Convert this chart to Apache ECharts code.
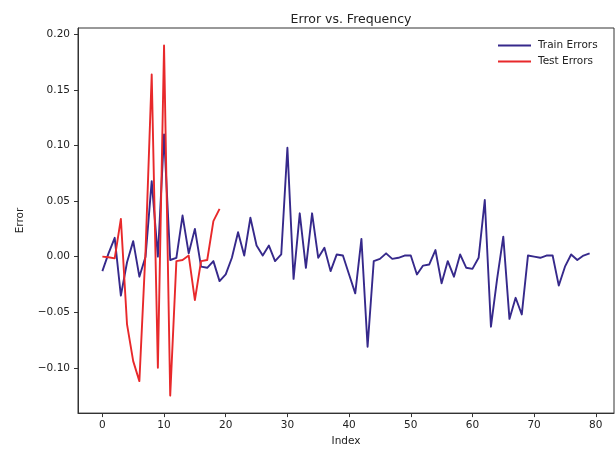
<!DOCTYPE html>
<html>
<head>
<meta charset="utf-8">
<script src="https://cdn.jsdelivr.net/npm/echarts@6/dist/echarts.min.js"></script>
<style>
  html, body { margin: 0; padding: 0; background: #fff; }
  #chart { width: 616px; height: 452px; }
</style>
</head>
<body>
<div id="chart"></div>
<script>
// Per-index errors for the training set (indices 0..79)
const trainErrors = [
  -0.013, 0.003, 0.017, -0.035, -0.005, 0.014, -0.018, 0.000, 0.068, 0.000,
  0.110, -0.003, -0.001, 0.037, 0.003, 0.025, -0.009, -0.010, -0.004, -0.022,
  -0.016, -0.001, 0.022, 0.001, 0.035, 0.010, 0.001, 0.010, -0.004, 0.002,
  0.098, -0.020, 0.039, -0.010, 0.039, -0.001, 0.008, -0.013, 0.002, 0.001,
  -0.016, -0.033, 0.016, -0.081, -0.004, -0.002, 0.003, -0.002, -0.001, 0.001,
  0.001, -0.016, -0.008, -0.007, 0.006, -0.024, -0.004, -0.018, 0.002, -0.010,
  -0.011, -0.001, 0.051, -0.063, -0.020, 0.018, -0.056, -0.037, -0.052, 0.001,
  0.000, -0.001, 0.001, 0.001, -0.026, -0.009, 0.002, -0.003, 0.001, 0.003
];

// Per-index errors for the test set (indices 0..19)
const testErrors = [
  0.000, -0.0005, -0.0015, 0.034, -0.061, -0.094, -0.112, 0.005, 0.164, -0.100,
  0.190, -0.125, -0.004, -0.003, 0.001, -0.039, -0.004, -0.003, 0.032, 0.043
];

const xTicks = [0, 10, 20, 30, 40, 50, 60, 70, 80];
const yTicks = [-0.10, -0.05, 0.00, 0.05, 0.10, 0.15, 0.20];

const seriesNames = ['Train Errors', 'Test Errors'];
const seriesColors = ['#36298b', '#e8292b'];

// Axis limits with a 5% margin around the data extent
function paddedRange(lo, hi) {
  const pad = (hi - lo) * 0.05;
  return [lo - pad, hi + pad];
}
const allY = trainErrors.concat(testErrors);
const [yMin, yMax] = paddedRange(Math.min(...allY), Math.max(...allY));
const [xMin, xMax] = paddedRange(0, trainErrors.length - 1);

const toPoints = arr => arr.map((v, i) => [i, v]);
const minus = s => s.replace('-', '\u2212');

const FONT = 'DejaVu Sans';
const TEXT = '#222';
const AXIS = '#333';

const chart = echarts.init(document.getElementById('chart'), null, { renderer: 'canvas' });
chart.setOption({
  animation: false,
  backgroundColor: '#fff',
  title: {
    text: 'Error vs. Frequency',
    left: 346, top: 8, textAlign: 'center',
    textStyle: { fontFamily: FONT, fontSize: 12.5, fontWeight: 'normal', color: TEXT }
  },
  legend: {
    data: seriesNames,
    orient: 'vertical',
    left: 493, top: 35,
    itemWidth: 33, itemHeight: 2, itemGap: 5,
    icon: 'rect',
    textStyle: { fontFamily: FONT, fontSize: 10.5, color: TEXT, padding: [0, 0, 0, 2] }
  },
  grid: {
    left: 78, right: 2, top: 28, bottom: 35,
    show: true, borderColor: AXIS, borderWidth: 1, backgroundColor: 'transparent'
  },
  xAxis: {
    type: 'value', min: xMin, max: xMax,
    name: 'Index', nameLocation: 'middle', nameGap: 21,
    nameTextStyle: { fontFamily: FONT, fontSize: 10.5, color: TEXT },
    axisLine: { show: true, onZero: false, lineStyle: { color: AXIS, width: 1 } },
    axisTick: { show: true, inside: false, length: 4, customValues: xTicks, lineStyle: { color: AXIS } },
    axisLabel: {
      customValues: xTicks, margin: 7,
      fontFamily: FONT, fontSize: 10.5, color: TEXT,
      formatter: v => String(v)
    },
    splitLine: { show: false }
  },
  yAxis: {
    type: 'value', min: yMin, max: yMax,
    name: 'Error', nameLocation: 'middle', nameGap: 52, nameRotate: 90,
    nameTextStyle: { fontFamily: FONT, fontSize: 10.5, color: TEXT },
    axisLine: { show: true, onZero: false, lineStyle: { color: AXIS, width: 1 } },
    axisTick: { show: true, inside: false, length: 4, customValues: yTicks, lineStyle: { color: AXIS } },
    axisLabel: {
      customValues: yTicks, margin: 8,
      fontFamily: FONT, fontSize: 10.5, color: TEXT,
      formatter: v => minus(v.toFixed(2))
    },
    splitLine: { show: false }
  },
  series: [
    {
      name: seriesNames[0], type: 'line', data: toPoints(trainErrors),
      showSymbol: false, symbol: 'none', color: seriesColors[0],
      lineStyle: { width: 1.9, color: seriesColors[0], join: 'round' }
    },
    {
      name: seriesNames[1], type: 'line', data: toPoints(testErrors),
      showSymbol: false, symbol: 'none', color: seriesColors[1],
      lineStyle: { width: 1.9, color: seriesColors[1], join: 'round' }
    }
  ]
});
</script>
</body>
</html>
